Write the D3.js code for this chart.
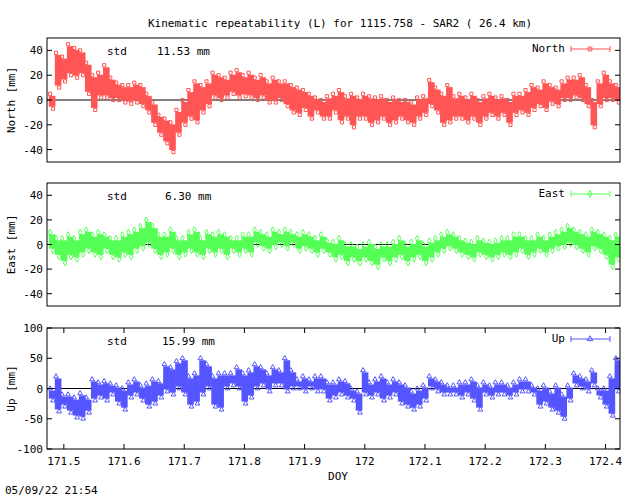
<!DOCTYPE html>
<html><head><meta charset="utf-8">
<script src="https://cdn.jsdelivr.net/npm/d3@7"></script>
<style>body{margin:0;background:#fff}text{font-family:"DejaVu Sans Mono",monospace;font-size:11px}</style>
</head><body><svg id="c" width="640" height="496"></svg>
<script>
const startDay = 171.48, binStep = 0.01;
const northLo=[-7,10,15,20,18,20,5,-8,2,2,0,0,-2,-3,-2,-5,-10,-20,-28,-35,-42,-28,-20,-15,-18,-10,-5,2,0,2,5,2,3,2,0,2,-2,-2,0,-5,-10,-12,-8,-15,-10,-15,-15,-10,-18,-15,-22,-15,-15,-20,-18,-15,-20,-18,-15,-18,-20,-15,-12,-5,-10,-20,-18,-15,-15,-18,-15,-20,-15,-12,-15,-12,-20,-12,-10,-12,-8,-5,-8,-3,-5,0,0,2,0,-5,-22,-5,0,0,-2];
const northHi=[5,38,35,45,42,40,30,20,22,28,18,14,12,12,14,12,5,-2,-12,-15,-18,-8,0,8,15,12,15,22,20,18,22,24,20,22,18,20,15,18,15,15,12,10,8,5,2,0,3,5,8,3,5,2,5,3,2,3,0,2,0,0,-2,2,3,16,10,5,12,3,5,2,5,0,3,5,2,3,0,5,5,8,12,10,15,12,10,15,18,18,20,12,0,15,22,15,12];
const eastLo=[-5,-10,-15,-10,-12,-8,-5,-8,-10,-5,-10,-12,-8,-10,-5,-3,0,-5,-10,-8,-5,-10,-8,-5,-8,-10,-5,-8,-5,-10,-5,-8,-5,-8,0,-3,-5,-2,0,-3,0,-5,-3,-5,-8,-5,-8,-12,-10,-15,-12,-15,-12,-15,-18,-12,-15,-12,-10,-15,-12,-10,-15,-12,-8,-5,-3,-5,-8,-10,-12,-8,-10,-12,-10,-8,-10,-8,-5,-10,-8,-5,-8,-5,-3,-2,0,-2,-5,-8,-3,-5,-10,-18,-12];
const eastHi=[10,5,5,8,5,10,12,8,10,8,5,5,8,10,12,15,20,15,8,8,12,5,5,10,12,5,10,8,10,8,5,5,8,8,12,10,8,12,10,12,10,8,10,8,5,8,3,2,5,0,0,-2,0,2,-2,0,0,2,5,0,2,5,0,3,5,8,10,8,5,3,2,5,3,2,3,5,5,8,8,5,5,8,5,8,10,12,15,12,10,8,12,10,8,5,8];
const upLo=[-20,-38,-30,-40,-48,-50,-40,-20,-15,-20,-10,-25,-35,-15,-10,-20,-30,-25,-15,-5,-10,0,-10,-30,-25,-10,0,-30,-35,0,5,0,-25,-15,0,5,-5,5,5,-5,0,0,-5,0,-5,-5,-20,-15,-10,-15,-20,-40,-10,-15,-10,-20,-15,-10,-25,-30,-35,-30,-20,0,-5,-10,-10,-10,-15,-10,-20,-35,-10,-15,-10,-10,-15,-10,-5,-5,-10,-30,-25,-35,-40,-50,-20,5,0,-5,5,-15,-30,-45,-5];
const upHi=[0,20,-10,-10,-15,-8,-15,15,10,12,8,5,0,10,15,5,8,15,12,40,35,45,50,20,25,50,40,20,25,25,25,35,25,30,40,35,25,35,30,50,30,15,20,15,20,20,10,10,15,12,0,-5,30,10,15,20,10,15,10,5,-5,0,5,20,15,10,5,5,10,10,15,5,10,5,10,10,5,10,15,15,5,0,5,-5,5,-10,5,25,20,15,30,0,0,20,50];
const xTicks=[171.5,171.6,171.7,171.8,171.9,172,172.1,172.2,172.3,172.4];
const panels=[
 {name:"North",label:"North [mm]",std:"11.53 mm",lo:northLo,hi:northHi,color:"#ff5555",dom:[-50,50],ticks:[-40,-20,0,20,40],top:38,bottom:162,mark:"square"},
 {name:"East",label:"East [mm]",std:"6.30 mm",lo:eastLo,hi:eastHi,color:"#55ff55",dom:[-50,50],ticks:[-40,-20,0,20,40],top:183,bottom:306,mark:"diamond"},
 {name:"Up",label:"Up [mm]",std:"15.99 mm",lo:upLo,hi:upHi,color:"#5555ff",dom:[-100,100],ticks:[-100,-50,0,50,100],top:328,bottom:449,mark:"triangle"}];
const svg=d3.select("#c");
const L=47,R=620;
const x=d3.scaleLinear().domain([171.472,172.424]).range([L,R]);
svg.append("text").attr("x",340).attr("y",27).attr("text-anchor","middle").text("Kinematic repeatability (L) for 1115.758 - SAR2  ( 26.4 km)");
const sym={square:d3.symbolSquare,diamond:d3.symbolDiamond,triangle:d3.symbolTriangle};
panels.forEach((p,pi)=>{
  const y=d3.scaleLinear().domain(p.dom).range([p.bottom,p.top]);
  const g=svg.append("g");
  const clip="clip"+pi;
  g.append("clipPath").attr("id",clip).append("rect").attr("x",L).attr("y",p.top).attr("width",R-L).attr("height",p.bottom-p.top);
  const d=g.append("g").attr("clip-path",`url(#${clip})`);
  d.append("line").attr("x1",L).attr("x2",R).attr("y1",y(0)).attr("y2",y(0)).attr("stroke","#000");
  const data=p.lo.map((lo,i)=>({t:startDay+i*binStep,lo,hi:p.hi[i]}));
  d.selectAll("rect.b").data(data).enter().append("rect")
   .attr("x",e=>x(e.t-binStep/2)).attr("width",x(startDay+binStep)-x(startDay)+0.6)
   .attr("y",e=>y(e.hi)+2).attr("height",e=>Math.max(0,y(e.lo)-y(e.hi)-4)).attr("fill",p.color);
  const pts=[];data.forEach(e=>{pts.push({t:e.t-0.003,v:e.hi},{t:e.t+0.002,v:e.lo},{t:e.t,v:(e.lo+e.hi)/2});});
  d.selectAll("path.m").data(pts).enter().append("path")
   .attr("transform",e=>`translate(${x(e.t)},${y(e.v)})`)
   .attr("d",d3.symbol().type(sym[p.mark]).size(10)).attr("fill","none").attr("stroke",p.color);
  g.append("rect").attr("x",L).attr("y",p.top).attr("width",R-L).attr("height",p.bottom-p.top).attr("fill","none").attr("stroke","#000");
  p.ticks.forEach(t=>{
    g.append("line").attr("x1",L).attr("x2",L+5).attr("y1",y(t)).attr("y2",y(t)).attr("stroke","#000");
    g.append("line").attr("x1",R).attr("x2",R-5).attr("y1",y(t)).attr("y2",y(t)).attr("stroke","#000");
    g.append("text").attr("x",L-4).attr("y",y(t)+4).attr("text-anchor","end").text(t);
  });
  g.append("text").attr("transform",`translate(15,${(p.top+p.bottom)/2}) rotate(-90)`).attr("text-anchor","middle").text(p.label);
  g.append("text").attr("x",107).attr("y",p.top+17).text("std");
  g.append("text").attr("x",pi==2?162:(pi==0?157:165)).attr("y",p.top+17).text(p.std);
  g.append("text").attr("x",565).attr("y",p.top+14).attr("text-anchor","end").text(p.name);
  const ly=p.top+11;
  g.append("line").attr("x1",571).attr("x2",610).attr("y1",ly).attr("y2",ly).attr("stroke",p.color);
  [571,610].forEach(xx=>g.append("line").attr("x1",xx).attr("x2",xx).attr("y1",ly-3).attr("y2",ly+3).attr("stroke",p.color));
  g.append("path").attr("transform",`translate(590,${ly})`).attr("d",d3.symbol().type(sym[p.mark]).size(14)).attr("fill","none").attr("stroke",p.color);
  if(pi==2){
    xTicks.forEach(t=>{
      g.append("line").attr("x1",x(t)).attr("x2",x(t)).attr("y1",p.bottom).attr("y2",p.bottom-5).attr("stroke","#000");
      g.append("line").attr("x1",x(t)).attr("x2",x(t)).attr("y1",p.top).attr("y2",p.top+5).attr("stroke","#000");
      g.append("text").attr("x",x(t)).attr("y",p.bottom+16).attr("text-anchor","middle").text(t);
    });
  }
});
svg.append("text").attr("x",338).attr("y",480).attr("text-anchor","middle").text("DOY");
svg.append("text").attr("x",5).attr("y",494).text("05/09/22 21:54");
</script></body></html>
